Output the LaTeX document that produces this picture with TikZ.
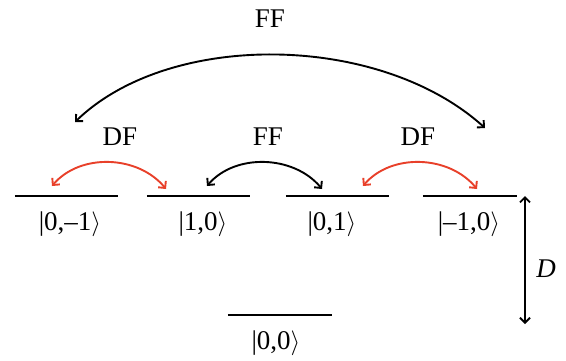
\documentclass[tikz,border=0pt]{standalone}
\usepackage{fontspec}
\setmainfont{Liberation Serif}
\usetikzlibrary{arrows.meta}
\definecolor{dfred}{RGB}{232,64,42}
\begin{document}
\begin{tikzpicture}[x=1pt,y=-1pt,
  lvl/.style={inner sep=0pt,minimum height=0pt},
  lbl/.style={inner sep=0pt,font=\fontsize{27}{32}\selectfont},
  lvline/.style={line width=2.4pt},
  conn/.style={line width=1.9pt,{Straight Barb[length=5pt,width=10pt]}-{Straight Barb[length=5pt,width=10pt]}},
  dfconn/.style={conn,draw=dfred}]
\useasboundingbox (0,0) rectangle (566,360);
% levels
\node[lvl,minimum width=103pt] (l1) at (66.5,196) {};
\node[lvl,minimum width=103pt] (l2) at (198.5,196) {};
\node[lvl,minimum width=103pt] (l3) at (337.5,196) {};
\node[lvl,minimum width=94pt]  (l4) at (470,196) {};
\node[lvl,minimum width=104pt] (l0) at (280,315) {};
\foreach \n in {l1,l2,l3,l4,l0} \draw[lvline] (\n.west) -- (\n.east);
% state labels
\node[lbl] (s1) at (70,224) {|0,–1$\rangle$};
\node[lbl] (s2) at (203,224) {|1,0$\rangle$};
\node[lbl] (s3) at (332,224) {|0,1$\rangle$};
\node[lbl] (s4) at (469,224) {|–1,0$\rangle$};
\node[lbl] (s0) at (276,343) {|0,0$\rangle$};
% transition labels
\node[lbl] (ff0) at (270,19) {FF};
\node[lbl] (df1) at (120,137) {DF};
\node[lbl] (ff1) at (268,137) {FF};
\node[lbl] (df2) at (418,137) {DF};
\node[lbl] (dl) at (546,269) {\textit{D}};
% arrow endpoints
\coordinate (a1) at (52,186);  \coordinate (b1) at (166,189);
\coordinate (a2) at (207,186); \coordinate (b2) at (322,189);
\coordinate (a3) at (363,186); \coordinate (b3) at (477,189);
\coordinate (a0) at (75,122);  \coordinate (b0) at (485,128);
\coordinate (dt) at (525,196); \coordinate (db) at (525,324);
% connectors
\draw[dfconn] (a1) .. controls (80,153) and (138,155) .. (b1);
\draw[conn]   (a2) .. controls (235,153) and (294,155) .. (b2);
\draw[dfconn] (a3) .. controls (391,153) and (449,155) .. (b3);
\draw[conn]   (a0) .. controls (170,30) and (380,33) .. (b0);
\draw[conn]   (dt) -- (db);
\end{tikzpicture}
\end{document}
